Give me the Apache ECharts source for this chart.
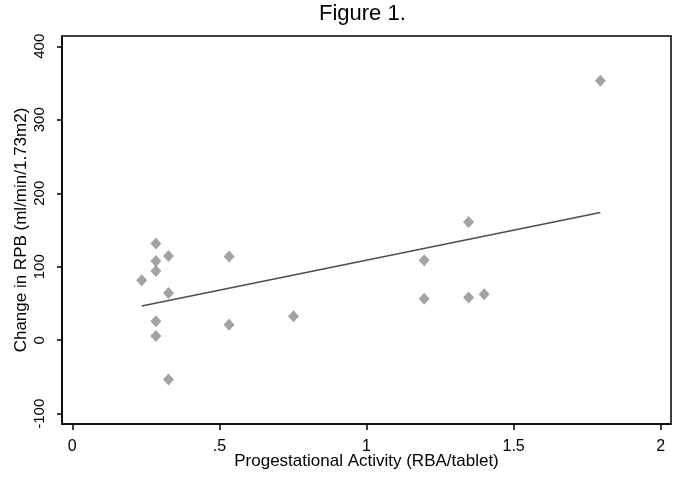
<!DOCTYPE html>
<html>
<head>
<meta charset="utf-8">
<script src="https://cdn.jsdelivr.net/npm/echarts@6/dist/echarts.min.js"></script>
<style>html,body{margin:0;padding:0;background:#fff;}#c{width:678px;height:477px;}</style>
</head>
<body>
<div id="c"></div>
<script>
// Progestational activity (RBA/tablet) vs change in RPB
const activity = [0.236, 0.284, 0.284, 0.284, 0.327, 0.327, 0.284, 0.284, 0.327, 0.533, 0.533, 0.752, 1.196, 1.196, 1.347, 1.347, 1.400, 1.795];
const changeRPB = [81.5, 131.5, 107.8, 94.2, 114.6, 64.3, 25.7, 5.7, -53.6, 114, 21.2, 32.5, 108.8, 56.6, 161, 58, 62.5, 353];
const fitX = [0.236, 1.795];
const fitY = [46.6, 173.7];
const xTicks = [0, 0.5, 1, 1.5, 2];
const xTickLabels = ['0', '.5', '1', '1.5', '2'];
const yTicks = [-100, 0, 100, 200, 300, 400];

const font = 'Liberation Sans, Arial, sans-serif';
const chart = echarts.init(document.getElementById('c'), null, {renderer: 'canvas'});
chart.setOption({
  backgroundColor: '#fff',
  animation: false,
  graphic: [{
    type: 'text', left: 366 - 47, top: 3,
    style: {text: 'Figure 1.', font: '22px ' + font, fill: '#000'}
  }],
  grid: {left: 62, right: 7, top: 36, bottom: 53, outerBoundsMode: 'none', containLabel: false,
    show: true, borderColor: '#000', borderWidth: 1.5, backgroundColor: '#fff'},
  xAxis: {
    type: 'value', min: -0.035, max: 2.035,
    name: 'Progestational Activity (RBA/tablet)', nameLocation: 'middle', nameGap: 29, nameMoveOverlap: false,
    nameTextStyle: {fontFamily: font, fontSize: 17, color: '#000'},
    axisLine: {show: true, onZero: false, lineStyle: {color: '#000', width: 1.5}},
    axisTick: {show: true, length: 6, customValues: xTicks, lineStyle: {color: '#000', width: 1.5}},
    axisLabel: {customValues: xTicks, fontFamily: font, fontSize: 16, color: '#000', margin: 15,
      formatter: v => { const i = xTicks.indexOf(v); return i >= 0 ? xTickLabels[i] : ''; }},
    splitLine: {show: false}
  },
  yAxis: {
    type: 'value', min: -114, max: 414,
    name: 'Change in RPB (ml/min/1.73m2)', nameLocation: 'middle', nameGap: 32, nameMoveOverlap: false,
    nameTextStyle: {fontFamily: font, fontSize: 17, color: '#000'},
    axisLine: {show: true, onZero: false, lineStyle: {color: '#000', width: 1.5}},
    axisTick: {show: true, length: 5, customValues: yTicks, lineStyle: {color: '#000', width: 1.5}},
    axisLabel: {customValues: yTicks, rotate: 90, fontFamily: font, fontSize: 15, color: '#000', margin: 15},
    splitLine: {show: false}
  },
  series: [
    {
      type: 'scatter', symbol: 'diamond', symbolSize: [11, 12],
      itemStyle: {color: '#8c8c8c'},
      data: activity.map((x, i) => [x, changeRPB[i]]),
      z: 3
    },
    {
      type: 'line', symbol: 'none', silent: true,
      lineStyle: {color: '#4d4d4d', width: 1.6},
      data: fitX.map((x, i) => [x, fitY[i]]),
      z: 2
    }
  ]
});
</script>
</body>
</html>
